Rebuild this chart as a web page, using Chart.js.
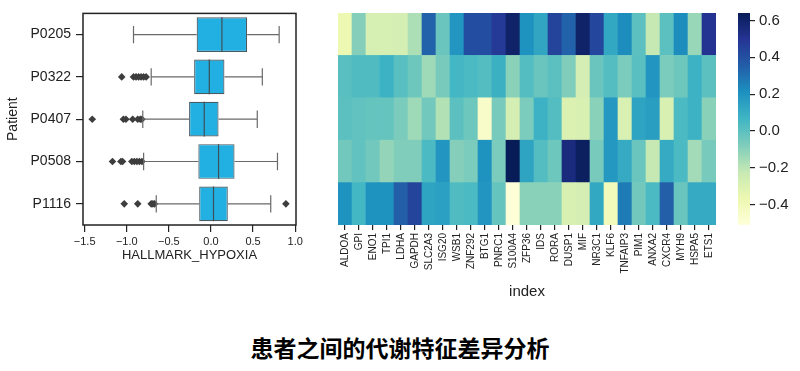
<!DOCTYPE html>
<html>
<head>
<meta charset="utf-8">
<script src="https://cdn.jsdelivr.net/npm/chart.js@4.4.0/dist/chart.umd.min.js"></script>
<style>
body { margin: 0; background: #fff; width: 800px; height: 371px; position: relative; overflow: hidden; }
canvas { position: absolute; top: 0; }
#boxChart { left: 0; }
#heatChart { left: 300px; }
#cbarChart { left: 725px; }
#title { position: absolute; left: 0; top: 332px; width: 800px; line-height: 30px; text-align: center;
  font-family: "Noto Sans CJK SC", sans-serif; font-weight: bold; font-size: 23px; color: #000; }
</style>
</head>
<body>
<canvas id="boxChart" width="310" height="275"></canvas>
<canvas id="heatChart" width="430" height="305"></canvas>
<canvas id="cbarChart" width="75" height="240"></canvas>
<div id="title">患者之间的代谢特征差异分析</div>
<script>
// boxplot data
const patients = ['P0205', 'P0322', 'P0407', 'P0508', 'P1116'];
const whiskerLow = [-0.92, -0.71, -0.81, -0.80, -0.65];
const q1 = [-0.17, -0.20, -0.26, -0.15, -0.14];
const median = [0.13, -0.02, -0.08, 0.09, 0.03];
const q3 = [0.43, 0.16, 0.09, 0.28, 0.20];
const whiskerHigh = [0.81, 0.61, 0.55, 0.79, 0.71];
const outliers = [
    [],
    [-1.06, -0.92, -0.89, -0.86, -0.83, -0.80, -0.77],
    [-1.41, -1.04, -1.01, -0.93, -0.87, -0.84, -0.82],
    [-1.17, -1.07, -1.05, -0.94, -0.91, -0.88, -0.85, -0.82],
    [-1.03, -0.87, -0.71, -0.69, -0.67, 0.89]
];
const boxTicks = [-1.5, -1.0, -0.5, 0.0, 0.5, 1.0];

// heatmap data (rows = patients, columns = genes)
const genes = ['ALDOA', 'GPI', 'ENO1', 'TPI1', 'LDHA', 'GAPDH', 'SLC2A3', 'ISG20', 'WSB1', 'ZNF292',
    'BTG1', 'PNRC1', 'S100A4', 'ZFP36', 'IDS', 'RORA', 'DUSP1', 'MIF', 'NR3C1', 'KLF6',
    'TNFAIP3', 'PIM1', 'ANXA2', 'CXCR4', 'MYH9', 'HSPA5', 'ETS1'];
const hP0205 = [-0.37, -0.09, -0.28, -0.28, -0.27, -0.17, 0.34, -0.03, 0.19, 0.41, 0.41, 0.48, 0.60, 0.20, 0.13, 0.44, 0.34, 0.60, 0.43, 0.12, 0.22, 0.00, -0.22, 0.00, 0.22, -0.13, 0.50];
const hP0322 = [0.01, 0.03, 0.03, 0.08, 0.01, -0.04, -0.14, -0.06, 0.06, 0.04, 0.02, 0.09, -0.10, 0.02, -0.03, 0.00, -0.08, -0.27, -0.03, 0.02, -0.07, 0.01, 0.19, -0.07, -0.04, 0.08, 0.00];
const hP0407 = [0.00, -0.01, -0.02, -0.02, -0.07, -0.14, -0.05, -0.18, 0.00, -0.04, -0.45, -0.06, -0.27, -0.07, 0.08, 0.02, -0.30, -0.29, -0.10, 0.18, -0.29, 0.14, 0.16, -0.29, 0.04, 0.08, -0.10];
const hP0508 = [-0.05, -0.01, -0.05, -0.12, -0.08, -0.08, 0.04, 0.19, -0.09, -0.07, 0.20, -0.07, 0.64, 0.14, 0.02, -0.04, 0.55, 0.62, -0.06, 0.18, 0.11, -0.03, -0.22, 0.11, 0.04, -0.15, -0.06];
const hP1116 = [0.20, 0.06, 0.20, 0.20, 0.35, 0.44, 0.14, 0.15, 0.03, 0.04, 0.19, -0.02, -0.50, -0.10, -0.10, -0.10, -0.29, -0.27, 0.12, -0.40, 0.27, -0.05, 0.04, 0.35, -0.03, 0.11, 0.11];
const cbarTicks = [-0.4, -0.2, 0.0, 0.2, 0.4, 0.6];
const vmin = -0.51;
const vmax = 0.64;

const FONT = "'Liberation Sans', Arial, sans-serif";
const INK = '#222';
const YlGnBu = ['#ffffd9', '#edf8b1', '#c7e9b4', '#7fcdbb', '#41b6c4', '#1d91c0', '#225ea8', '#253494', '#081d58'];

const hex2rgb = h => [1, 3, 5].map(i => parseInt(h.slice(i, i + 2), 16));
const colorFor = v => {
    let t = (v - vmin) / (vmax - vmin);
    t = Math.max(0, Math.min(1, t)) * (YlGnBu.length - 1);
    const i = Math.min(Math.floor(t), YlGnBu.length - 2);
    const f = t - i;
    const a = hex2rgb(YlGnBu[i]), b = hex2rgb(YlGnBu[i + 1]);
    const c = a.map((x, k) => Math.round(x + (b[k] - x) * f));
    return `rgb(${c[0]},${c[1]},${c[2]})`;
};
const fmt = v => (v < 0 ? '\u2212' : '') + Math.abs(v).toFixed(1);

// ---- boxplot ----
const boxExtras = {
    id: 'boxExtras',
    afterDatasetsDraw(chart) {
        const {ctx, chartArea, scales: {x, y}} = chart;
        const boxes = chart.getDatasetMeta(0).data;
        ctx.save();
        ctx.lineWidth = 1.2;
        patients.forEach((p, i) => {
            const cy = y.getPixelForValue(i);
            const h = boxes[i].height;
            ctx.strokeStyle = '#6a6a6a';
            ctx.beginPath();
            ctx.moveTo(x.getPixelForValue(whiskerLow[i]), cy);
            ctx.lineTo(x.getPixelForValue(q1[i]), cy);
            ctx.moveTo(x.getPixelForValue(q3[i]), cy);
            ctx.lineTo(x.getPixelForValue(whiskerHigh[i]), cy);
            [whiskerLow[i], whiskerHigh[i]].forEach(v => {
                const px = x.getPixelForValue(v);
                ctx.moveTo(px, cy - h / 4);
                ctx.lineTo(px, cy + h / 4);
            });
            ctx.stroke();
            ctx.strokeStyle = '#3f4f57';
            ctx.beginPath();
            const mx = x.getPixelForValue(median[i]);
            ctx.moveTo(mx, cy - h / 2);
            ctx.lineTo(mx, cy + h / 2);
            ctx.stroke();
        });
        ctx.strokeStyle = INK;
        ctx.lineWidth = 1.5;
        ctx.strokeRect(chartArea.left, chartArea.top, chartArea.right - chartArea.left, chartArea.bottom - chartArea.top);
        ctx.restore();
    }
};

new Chart(document.getElementById('boxChart'), {
    type: 'bar',
    data: {
        labels: patients,
        datasets: [{
            data: patients.map((p, i) => [q1[i], q3[i]]),
            backgroundColor: '#22b0e2',
            borderColor: '#4a5a62',
            borderWidth: 1.2,
            borderSkipped: false,
            barPercentage: 0.82,
            categoryPercentage: 1,
            grouped: false
        }, {
            type: 'scatter',
            data: outliers.flatMap((arr, i) => arr.map(v => ({x: v, y: patients[i]}))),
            pointStyle: 'rectRot',
            radius: 3.8,
            backgroundColor: '#3d3d3d',
            borderColor: '#3d3d3d',
            borderWidth: 0
        }]
    },
    options: {
        responsive: false,
        animation: false,
        indexAxis: 'y',
        layout: {padding: {top: 13, right: 14, left: 0, bottom: 0}},
        plugins: {legend: {display: false}, tooltip: {enabled: false}},
        scales: {
            x: {
                type: 'linear', min: -1.52, max: 1.01,
                afterBuildTicks: s => { s.ticks = boxTicks.map(v => ({value: v})); },
                afterFit: s => { s.height = 50; },
                border: {display: false},
                grid: {drawOnChartArea: false, drawTicks: true, tickLength: 7, color: INK, lineWidth: 1.2},
                ticks: {color: INK, font: {family: FONT, size: 11}, padding: 3, callback: v => fmt(v)},
                title: {display: true, text: 'HALLMARK_HYPOXIA', color: INK, font: {family: FONT, size: 13}, padding: {top: 0, bottom: 12}}
            },
            y: {
                type: 'category', offset: true,
                afterFit: s => { s.width = 83; },
                border: {display: false},
                grid: {drawOnChartArea: false, drawTicks: true, tickLength: 7, color: INK, lineWidth: 1.2, offset: false},
                ticks: {color: INK, font: {family: FONT, size: 14}, padding: 5},
                title: {display: true, text: 'Patient', color: INK, font: {family: FONT, size: 14}, padding: {top: 5, bottom: 0}}
            }
        }
    },
    plugins: [boxExtras]
});

// ---- heatmap (stacked cells, bottom row first) ----
const heatRows = [hP1116, hP0508, hP0407, hP0322, hP0205];
new Chart(document.getElementById('heatChart'), {
    type: 'bar',
    data: {
        labels: genes,
        datasets: heatRows.map(row => ({
            data: row.map((v, j) => ({x: genes[j], y: 1, v: v})),
            backgroundColor: ctx => colorFor(ctx.raw.v),
            borderWidth: 0,
            barPercentage: 1,
            categoryPercentage: 1
        }))
    },
    options: {
        responsive: false,
        animation: false,
        layout: {padding: {top: 13, left: 38, right: 14, bottom: 0}},
        plugins: {legend: {display: false}, tooltip: {enabled: false}},
        scales: {
            x: {
                stacked: true,
                afterFit: s => { s.height = 80; },
                border: {display: false},
                grid: {drawOnChartArea: false, drawTicks: true, tickLength: 5, color: INK, lineWidth: 1.2, offset: false},
                ticks: {color: INK, font: {family: FONT, size: 10}, padding: 3, minRotation: 90, maxRotation: 90, autoSkip: false},
                title: {display: true, text: 'index', color: INK, font: {family: FONT, size: 15}, padding: {top: 0, bottom: 4}}
            },
            y: {stacked: true, display: false, min: 0, max: heatRows.length}
        }
    }
});

// ---- colorbar ----
new Chart(document.getElementById('cbarChart'), {
    type: 'bar',
    data: {
        labels: ['cbar'],
        datasets: [{
            data: [[vmin, vmax]],
            backgroundColor: ctx => {
                const area = ctx.chart.chartArea;
                if (!area) return YlGnBu[4];
                const g = ctx.chart.ctx.createLinearGradient(0, area.bottom, 0, area.top);
                YlGnBu.forEach((c, i) => g.addColorStop(i / (YlGnBu.length - 1), c));
                return g;
            },
            borderWidth: 0,
            barPercentage: 1,
            categoryPercentage: 1
        }]
    },
    options: {
        responsive: false,
        animation: false,
        layout: {padding: {top: 12, left: 13, right: 0, bottom: 15}},
        plugins: {legend: {display: false}, tooltip: {enabled: false}},
        scales: {
            x: {display: false},
            y: {
                position: 'right', min: vmin, max: vmax,
                afterBuildTicks: s => { s.ticks = cbarTicks.map(v => ({value: v})); },
                afterFit: s => { s.width = 50; },
                border: {display: false},
                grid: {drawOnChartArea: false, drawTicks: true, tickLength: 5, color: INK, lineWidth: 1.2},
                ticks: {color: INK, font: {family: FONT, size: 15}, padding: 4, callback: v => fmt(v)}
            }
        }
    }
});
</script>
</body>
</html>
